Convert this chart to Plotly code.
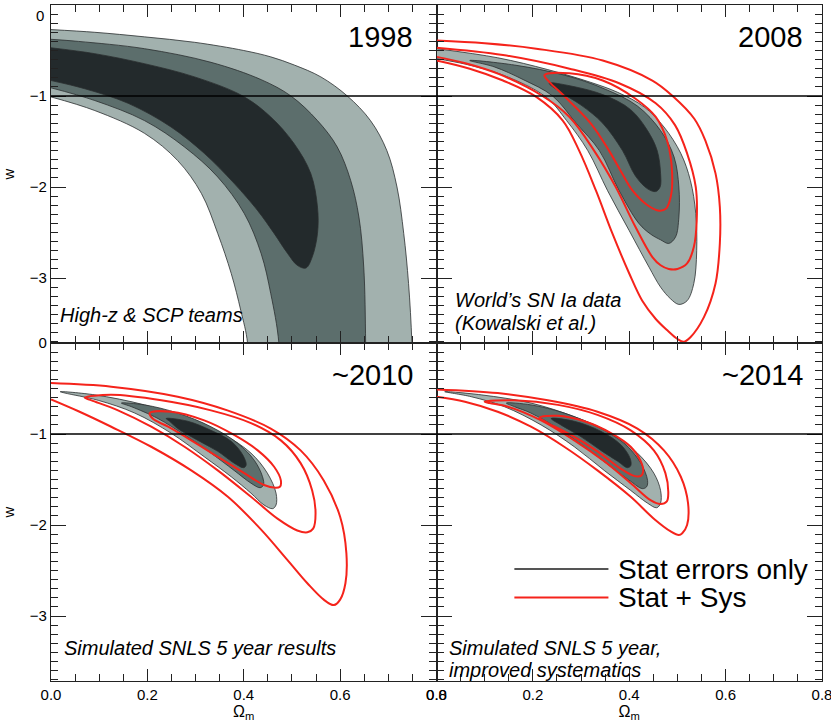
import plotly.graph_objects as go

# ---------------- data ----------------
years = ["1998", "2008", "~2010", "~2014"]
notes = [["High-z &amp; SCP teams"],
         ["World’s SN Ia data", "(Kowalski et al.)"],
         ["Simulated SNLS 5 year results"],
         ["Simulated SNLS 5 year,", "improved systematics"]]
x_ticks = [0.0, 0.2, 0.4, 0.6, 0.8]
y_ticks = [0, -1, -2, -3]
w_ref = -1.0

# ---- 1998 (stat only, three levels); the bands run out through the bottom edge ----
c1998_light_x = [0, 0.091, 0.194, 0.298, 0.40, 0.456, 0.505, 0.56, 0.615, 0.663, 0.697, 0.718, 0.732, 0.742, 0.749, 0.752,
                 0.41, 0.408, 0.394, 0.374, 0.346, 0.312, 0.263, 0.194, 0.091, 0]
c1998_light_y = [-0.27, -0.30, -0.35, -0.41, -0.50, -0.57, -0.66, -0.79, -1.0, -1.27, -1.60, -2.0, -2.51, -3.06, -3.72, -4.6,
                 -4.6, -3.72, -3.36, -2.95, -2.51, -2.07, -1.71, -1.41, -1.16, -1.01]
c1998_mid_x = [0, 0.057, 0.194, 0.332, 0.436, 0.498, 0.553, 0.594, 0.622, 0.639, 0.649, 0.653, 0.654,
               0.476, 0.473, 0.456, 0.436, 0.401, 0.346, 0.277, 0.194, 0.091, 0]
c1998_mid_y = [-0.377, -0.40, -0.48, -0.63, -0.82, -1.0, -1.27, -1.56, -1.93, -2.33, -2.88, -3.72, -4.6,
               -4.6, -3.72, -3.17, -2.73, -2.29, -1.89, -1.56, -1.27, -1.05, -0.91]
c1998_dark_x = [0, 0.091, 0.194, 0.298, 0.398, 0.456, 0.504, 0.539, 0.553, 0.553, 0.542, 0.529,
                0.511, 0.491, 0.463, 0.429, 0.380, 0.318, 0.249, 0.160, 0.070, 0]
c1998_dark_y = [-0.47, -0.535, -0.645, -0.79, -1.0, -1.23, -1.52, -1.85, -2.22, -2.51, -2.77, -2.89,
                -2.86, -2.73, -2.51, -2.26, -1.96, -1.63, -1.34, -1.08, -0.92, -0.83]

# ---- 2008 (stat only) ----
c2008_light_x = [0, 0.127, 0.231, 0.320, 0.376, 0.431, 0.472, 0.507, 0.527, 0.538, 0.540, 0.534, 0.520, 0.503,
                 0.486, 0.465, 0.441, 0.40, 0.355, 0.314, 0.27, 0.227, 0.138, 0.06, 0]
c2008_light_y = [-0.48, -0.58, -0.71, -0.85, -0.96, -1.12, -1.34, -1.63, -1.93, -2.29, -2.70, -3.06, -3.25, -3.29,
                 -3.23, -3.10, -2.88, -2.48, -2.04, -1.60, -1.27, -1.01, -0.77, -0.65, -0.59]
c2008_mid_x = [0.069, 0.162, 0.265, 0.348, 0.417, 0.465, 0.493, 0.503, 0.503, 0.496, 0.482,
               0.465, 0.445, 0.42, 0.379, 0.338, 0.29, 0.241, 0.18, 0.12, 0.069]
c2008_mid_y = [-0.61, -0.66, -0.77, -0.92, -1.11, -1.38, -1.67, -2.00, -2.33, -2.55, -2.62,
               -2.58, -2.52, -2.40, -2.04, -1.60, -1.30, -1.0, -0.82, -0.68, -0.61]
c2008_dark_x = [0.234, 0.279, 0.348, 0.403, 0.438, 0.458, 0.465, 0.464, 0.455,
                0.438, 0.413, 0.386, 0.345, 0.30, 0.255, 0.234]
c2008_dark_y = [-0.86, -0.89, -0.99, -1.15, -1.38, -1.60, -1.85, -2.00, -2.05,
                -2.02, -1.88, -1.60, -1.30, -1.10, -0.95, -0.86]
# ---- 2008 (stat + sys) ----
r2008_in_x = [0.224, 0.276, 0.345, 0.413, 0.455, 0.479, 0.489, 0.486, 0.476, 0.462,
              0.438, 0.407, 0.385, 0.358, 0.32, 0.265, 0.235, 0.224]
r2008_in_y = [-0.77, -0.75, -0.83, -1.03, -1.23, -1.50, -1.85, -2.11, -2.24, -2.26,
              -2.20, -2.04, -1.85, -1.60, -1.30, -1.0, -0.85, -0.77]
r2008_mid_x = [0, 0.138, 0.276, 0.379, 0.455, 0.495, 0.52, 0.538, 0.540, 0.534, 0.520, 0.50, 0.482,
               0.465, 0.448, 0.413, 0.372, 0.327, 0.276, 0.22, 0.13, 0.06, 0]
r2008_mid_y = [-0.47, -0.55, -0.70, -0.86, -1.08, -1.32, -1.63, -2.00, -2.37, -2.66, -2.84, -2.90, -2.90,
               -2.86, -2.77, -2.44, -2.0, -1.60, -1.23, -1.0, -0.76, -0.64, -0.57]
r2008_out_x = [0, 0.10, 0.207, 0.345, 0.448, 0.49, 0.535, 0.558, 0.579, 0.588, 0.588, 0.579, 0.555, 0.527,
               0.513, 0.50, 0.48, 0.455, 0.427, 0.40, 0.365, 0.331, 0.296, 0.262, 0.207, 0.138, 0.069, 0]
r2008_out_y = [-0.39, -0.42, -0.48, -0.61, -0.83, -1.0, -1.25, -1.49, -1.85, -2.22, -2.62, -3.06, -3.43, -3.65,
               -3.70, -3.67, -3.58, -3.45, -3.25, -2.95, -2.51, -2.04, -1.60, -1.27, -1.01, -0.83, -0.70, -0.61]

# ---- ~2010 (stat only) ----
c2010_light_x = [0.019, 0.091, 0.194, 0.284, 0.36, 0.415, 0.449, 0.467, 0.467, 0.46,
                 0.442, 0.415, 0.374, 0.318, 0.249, 0.174, 0.098, 0.029, 0.019]
c2010_light_y = [-0.535, -0.57, -0.68, -0.83, -1.01, -1.21, -1.43, -1.65, -1.78, -1.82,
                 -1.78, -1.65, -1.47, -1.25, -0.99, -0.77, -0.63, -0.55, -0.535]
c2010_mid_x = [0.146, 0.194, 0.263, 0.332, 0.387, 0.422, 0.439, 0.441, 0.434,
               0.415, 0.38, 0.332, 0.277, 0.222, 0.167, 0.146]
c2010_mid_y = [-0.66, -0.68, -0.77, -0.92, -1.10, -1.29, -1.47, -1.56, -1.59,
               -1.54, -1.40, -1.21, -1.01, -0.83, -0.70, -0.66]
c2010_dark_x = [0.239, 0.284, 0.332, 0.374, 0.398, 0.405, 0.40, 0.38, 0.346, 0.305, 0.263, 0.246, 0.239]
c2010_dark_y = [-0.83, -0.86, -0.96, -1.08, -1.23, -1.34, -1.37, -1.32, -1.19, -1.07, -0.94, -0.86, -0.83]
# ---- ~2010 (stat + sys) ----
r2010_in_x = [0.205, 0.249, 0.318, 0.38, 0.429, 0.463, 0.477, 0.475, 0.466,
              0.442, 0.401, 0.346, 0.291, 0.243, 0.211, 0.205]
r2010_in_y = [-0.77, -0.755, -0.85, -1.01, -1.18, -1.36, -1.51, -1.58, -1.59,
              -1.56, -1.43, -1.25, -1.07, -0.92, -0.83, -0.77]
r2010_mid_x = [0.07, 0.125, 0.229, 0.332, 0.415, 0.477, 0.518, 0.542, 0.549, 0.544, 0.532,
               0.511, 0.47, 0.415, 0.346, 0.277, 0.208, 0.139, 0.084, 0.07]
r2010_mid_y = [-0.60, -0.57, -0.63, -0.74, -0.88, -1.07, -1.32, -1.62, -1.87, -2.04, -2.08,
               -2.06, -1.93, -1.69, -1.40, -1.14, -0.92, -0.74, -0.63, -0.60]
r2010_out_x = [0, 0.125, 0.263, 0.366, 0.456, 0.518, 0.566, 0.60, 0.613, 0.611, 0.60, 0.587,
               0.566, 0.532, 0.49, 0.436, 0.367, 0.291, 0.208, 0.125, 0.057, 0]
r2010_out_y = [-0.44, -0.48, -0.59, -0.74, -0.94, -1.18, -1.51, -1.91, -2.31, -2.64, -2.82, -2.88,
               -2.82, -2.64, -2.38, -2.05, -1.69, -1.40, -1.14, -0.92, -0.75, -0.62]

# ---- ~2014 (stat only) ----
c2014_light_x = [0.017, 0.093, 0.196, 0.286, 0.362, 0.417, 0.451, 0.465, 0.465, 0.457,
                 0.438, 0.403, 0.348, 0.286, 0.217, 0.141, 0.072, 0.017]
c2014_light_y = [-0.535, -0.57, -0.66, -0.81, -0.99, -1.21, -1.43, -1.62, -1.76, -1.81,
                 -1.76, -1.62, -1.40, -1.14, -0.90, -0.70, -0.59, -0.535]
c2014_mid_x = [0.145, 0.196, 0.265, 0.334, 0.389, 0.424, 0.438, 0.436, 0.427,
               0.403, 0.362, 0.307, 0.252, 0.196, 0.162, 0.145]
c2014_mid_y = [-0.66, -0.68, -0.77, -0.92, -1.10, -1.32, -1.51, -1.58, -1.60,
               -1.52, -1.36, -1.14, -0.94, -0.77, -0.70, -0.66]
c2014_dark_x = [0.238, 0.286, 0.341, 0.383, 0.402, 0.403, 0.396, 0.376, 0.341, 0.30, 0.258, 0.238]
c2014_dark_y = [-0.83, -0.86, -0.97, -1.12, -1.27, -1.35, -1.37, -1.30, -1.18, -1.03, -0.90, -0.83]
# ---- ~2014 (stat + sys) ----
r2014_in_x = [0.214, 0.252, 0.307, 0.362, 0.403, 0.424, 0.429, 0.424, 0.41,
              0.382, 0.334, 0.279, 0.231, 0.214]
r2014_in_y = [-0.82, -0.80, -0.86, -0.99, -1.14, -1.30, -1.41, -1.46, -1.46,
              -1.38, -1.19, -1.01, -0.88, -0.82]
r2014_mid_x = [0.10, 0.162, 0.252, 0.334, 0.403, 0.451, 0.475, 0.481, 0.478, 0.465,
               0.445, 0.403, 0.348, 0.286, 0.217, 0.148, 0.11, 0.10]
r2014_mid_y = [-0.645, -0.63, -0.68, -0.79, -0.96, -1.18, -1.43, -1.65, -1.74, -1.77,
               -1.73, -1.54, -1.30, -1.07, -0.85, -0.70, -0.66, -0.645]
r2014_out_x = [0, 0.127, 0.231, 0.334, 0.417, 0.472, 0.507, 0.522, 0.52, 0.51, 0.503,
               0.486, 0.451, 0.403, 0.334, 0.265, 0.196, 0.127, 0.059, 0]
r2014_out_y = [-0.51, -0.55, -0.63, -0.755, -0.94, -1.18, -1.47, -1.76, -2.0, -2.09, -2.11,
               -2.07, -1.93, -1.69, -1.40, -1.14, -0.92, -0.755, -0.645, -0.59]

legend_names = ["Stat errors only", "Stat + Sys"]

# ---------------- styles ----------------
LIGHT = "#a2b1ae"
MID = "#5c6e6c"
DARK = "#232a2c"
EDGE = "#2b2f30"
RED = "#f5231b"
TICKFONT = dict(family="Liberation Sans Narrow, Liberation Sans, Arial", size=15, color="black")
TXTFONT = "Liberation Sans, Arial, sans-serif"

fig = go.Figure()

panels = [
    ("x", "y", [(c1998_light_x, c1998_light_y, LIGHT), (c1998_mid_x, c1998_mid_y, MID), (c1998_dark_x, c1998_dark_y, DARK)], []),
    ("x2", "y2", [(c2008_light_x, c2008_light_y, LIGHT), (c2008_mid_x, c2008_mid_y, MID), (c2008_dark_x, c2008_dark_y, DARK)],
     [(r2008_out_x, r2008_out_y), (r2008_mid_x, r2008_mid_y), (r2008_in_x, r2008_in_y)]),
    ("x3", "y3", [(c2010_light_x, c2010_light_y, LIGHT), (c2010_mid_x, c2010_mid_y, MID), (c2010_dark_x, c2010_dark_y, DARK)],
     [(r2010_out_x, r2010_out_y), (r2010_mid_x, r2010_mid_y), (r2010_in_x, r2010_in_y)]),
    ("x4", "y4", [(c2014_light_x, c2014_light_y, LIGHT), (c2014_mid_x, c2014_mid_y, MID), (c2014_dark_x, c2014_dark_y, DARK)],
     [(r2014_out_x, r2014_out_y), (r2014_mid_x, r2014_mid_y), (r2014_in_x, r2014_in_y)]),
]

for xa, ya, fills, reds in panels:
    for cx, cy, col in fills:
        fig.add_trace(go.Scatter(x=cx, y=cy, xaxis=xa, yaxis=ya, mode="lines", fill="toself",
                                 fillcolor=col, line=dict(color=EDGE, width=0.8, shape="spline", smoothing=1.0),
                                 name=legend_names[0], showlegend=False, hoverinfo="skip"))
    for rx, ry in reds:
        fig.add_trace(go.Scatter(x=rx, y=ry, xaxis=xa, yaxis=ya, mode="lines",
                                 line=dict(color=RED, width=2, shape="spline", smoothing=1.0),
                                 name=legend_names[1], showlegend=False, hoverinfo="skip"))

# axes
L, R, T, B = 51, 9, 5, 46
xdoms = [[0, 0.5], [0.5, 1], [0, 0.5], [0.5, 1]]
ydoms = [[0.5, 1], [0.5, 1], [0, 0.5], [0, 0.5]]
names = ["", "2", "3", "4"]
note_x = [0.018, 0.044, 0.028, 0.028]
note_y = [[0.084], [0.126, 0.058], [0.097], [0.099, 0.034]]
for i, n in enumerate(names):
    bottom = i >= 2
    left = i % 2 == 0
    xax = dict(domain=xdoms[i], range=[0, 0.8], anchor="y" + n, tickmode="array", tickvals=x_ticks,
               ticktext=[f"{v:.1f}" for v in x_ticks], ticks="inside", ticklen=12, tickwidth=1,
               tickcolor="#222", showline=True, linecolor="#222", linewidth=1.2, mirror="allticks",
               showgrid=False, zeroline=False, showticklabels=bottom, tickfont=TICKFONT, automargin=False,
               ticklabeloverflow="allow",
               minor=dict(dtick=0.05, ticklen=7, ticks="inside", tickcolor="#222", tickwidth=1, showgrid=False))
    if bottom:
        xax["title"] = dict(text="Ω<sub>m</sub>", font=dict(family=TICKFONT["family"], size=16, color="black"), standoff=2)
    # the top "0" of the upper-left panel is written separately so it is not cut by the page edge
    yvals = y_ticks if i == 2 else y_ticks[1:]
    yax = dict(domain=ydoms[i], range=[-3.714, 0], anchor="x" + n, tickmode="array", tickvals=yvals,
               ticks="inside", ticklen=15, tickwidth=1, tickcolor="#222", showline=True, linecolor="#222",
               linewidth=1.2, mirror="allticks", showgrid=False, zeroline=False, showticklabels=left,
               tickfont=TICKFONT, automargin=False, ticklabeloverflow="allow",
               minor=dict(dtick=0.1, ticklen=7, ticks="inside", tickcolor="#222", tickwidth=1, showgrid=False))
    if left:
        yax["title"] = dict(text="w", font=dict(family=TICKFONT["family"], size=15, color="black"), standoff=12)
    fig.update_layout({"xaxis" + n: xax, "yaxis" + n: yax})

    fig.add_shape(type="line", xref=f"x{n} domain", yref="y" + n, x0=0, x1=1, y0=w_ref, y1=w_ref,
                  line=dict(color="black", width=1.4))
    fig.add_annotation(xref=f"x{n} domain", yref=f"y{n} domain", x=0.945 if left else 0.955, y=0.904,
                       text=years[i], showarrow=False, xanchor="right", yanchor="middle",
                       font=dict(family=TXTFONT, size=29, color="black"))
    for k, line_txt in enumerate(notes[i]):
        fig.add_annotation(xref=f"x{n} domain", yref=f"y{n} domain", x=note_x[i], y=note_y[i][k],
                           text="<i>" + line_txt + "</i>", showarrow=False, xanchor="left",
                           yanchor="middle", align="left", font=dict(family=TXTFONT, size=20, color="black"))

# top "0" tick label of the upper-left panel
fig.add_annotation(xref="x domain", yref="y domain", x=0, y=1, xshift=-5, text=str(y_ticks[0]),
                   showarrow=False, xanchor="right", yanchor="top", font=TICKFONT)

# legend (inside lower-right panel)
for j, (col, yy) in enumerate([("#555555", 0.331), (RED, 0.247)]):
    fig.add_shape(type="line", xref="x4 domain", yref="y4 domain", x0=0.202, x1=0.446, y0=yy, y1=yy,
                  line=dict(color=col, width=2))
    fig.add_annotation(xref="x4 domain", yref="y4 domain", x=0.466, y=yy, text=legend_names[j],
                       showarrow=False, xanchor="left", yanchor="middle",
                       font=dict(family=TXTFONT, size=28, color="black"))

fig.update_layout(width=831, height=727, margin=dict(l=L, r=R, t=T, b=B),
                  paper_bgcolor="white", plot_bgcolor="white", showlegend=False)

fig.write_html("out.html", config={"displayModeBar": False},
               post_script="document.body.style.margin='0px';")
